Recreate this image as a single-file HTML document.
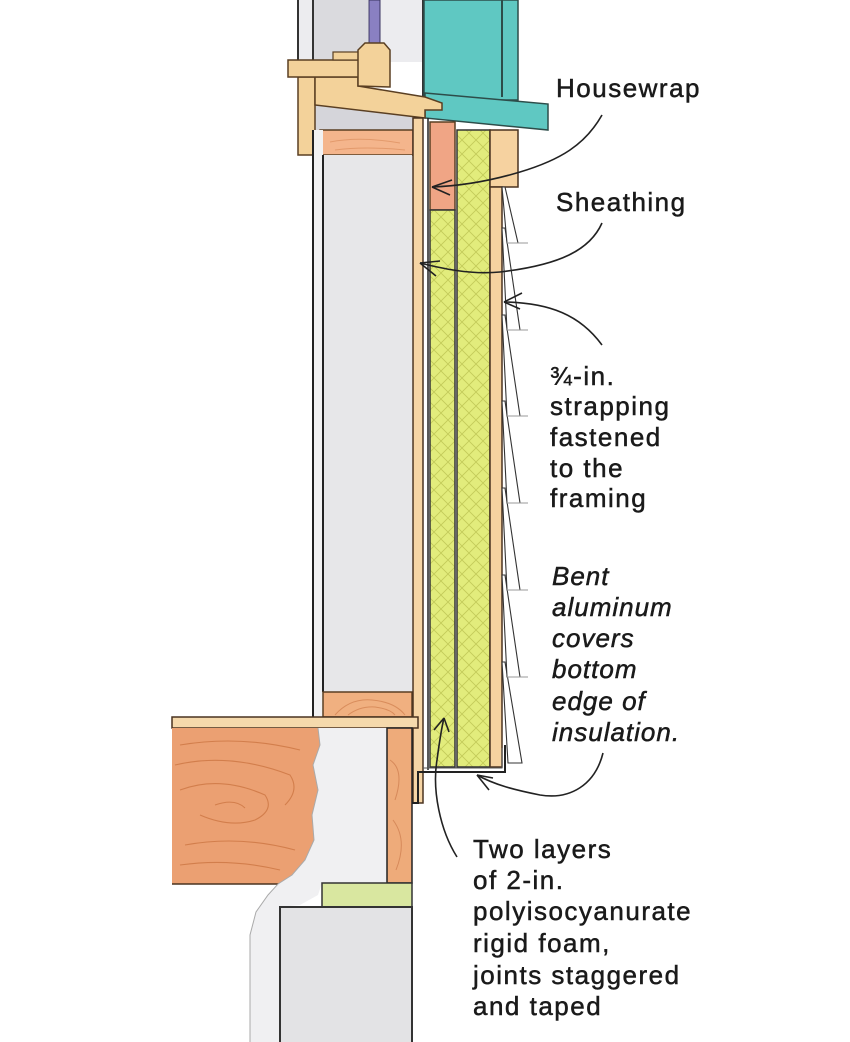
<!DOCTYPE html>
<html><head><meta charset="utf-8"><style>
html,body{margin:0;padding:0;background:#fff;}
svg{display:block;}
.t{font-family:"Liberation Sans",sans-serif;font-size:26px;letter-spacing:1.5px;fill:#1a1a1a;stroke:#1a1a1a;stroke-width:0.5px;}
.i{font-family:"Liberation Sans",sans-serif;font-size:26px;font-style:italic;letter-spacing:1px;fill:#1a1a1a;stroke:#1a1a1a;stroke-width:0.5px;}
</style></head><body>
<svg width="850" height="1042" viewBox="0 0 850 1042" xmlns="http://www.w3.org/2000/svg">
<defs>
<pattern id="hatch" width="14" height="14" patternUnits="userSpaceOnUse">
<rect width="14" height="14" fill="#e2ec7c"/>
<path d="M0,0 L14,14 M14,0 L0,14" stroke="#c3cb5a" stroke-width="0.9"/>
</pattern>
</defs>
<rect width="850" height="1042" fill="#fff"/>

<!-- window top -->
<rect x="298" y="0" width="125" height="62" fill="#ececef"/>
<rect x="313" y="0" width="55" height="62" fill="#dadade"/>
<rect x="369" y="0" width="11" height="47" fill="#8a80c2" stroke="#3a3560" stroke-width="1"/>
<line x1="298" y1="0" x2="298" y2="62" stroke="#333" stroke-width="2"/>
<line x1="313" y1="0" x2="313" y2="62" stroke="#333" stroke-width="2"/>
<line x1="423" y1="0" x2="423" y2="100" stroke="#333" stroke-width="2"/>

<!-- teal casing -->
<rect x="424" y="0" width="94" height="100" fill="#5fc8c2" stroke="#2d4d4a" stroke-width="1.5"/>
<line x1="502" y1="0" x2="502" y2="97" stroke="#2d4d4a" stroke-width="2"/>
<polygon points="425,93 548,104 548,130 425,118" fill="#5fc8c2" stroke="#2d4d4a" stroke-width="1.5"/>

<!-- grey under sill -->
<rect x="315" y="104" width="98" height="27" fill="#d5d5da"/>

<!-- sill pieces -->
<rect x="298" y="77" width="17" height="78" fill="#f3d29a" stroke="#5a3f22" stroke-width="1.5"/>
<polygon points="315,77 358,77 358,86 425,97 442,103 442,110 425,110 425,118 315,105" fill="#f3d29a" stroke="#5a3f22" stroke-width="1.5"/>
<rect x="288" y="60" width="72" height="17" fill="#f3d29a" stroke="#5a3f22" stroke-width="1.5"/>
<rect x="333" y="52" width="27" height="8" fill="#f3d29a" stroke="#5a3f22" stroke-width="1.2"/>
<polygon points="358,86 358,50 365,43 384,43 390,50 390,87" fill="#f3d29a" stroke="#5a3f22" stroke-width="1.5"/>

<!-- header -->
<rect x="320" y="130" width="93" height="25" fill="#f4b58c" stroke="#5a3f22" stroke-width="1.5"/>
<path d="M330,142 Q360,136 400,143 M335,150 Q365,146 405,150" stroke="#e39a6c" stroke-width="1" fill="none"/>

<!-- interior wall -->
<rect x="313" y="130" width="10" height="588" fill="#f2f2f3"/>
<rect x="323" y="155" width="89" height="537" fill="#e7e7e9"/>
<line x1="313" y1="130" x2="313" y2="718" stroke="#222" stroke-width="2"/>
<line x1="323" y1="155" x2="323" y2="692" stroke="#222" stroke-width="2"/>
<rect x="323" y="692" width="89" height="25" fill="#f0b080" stroke="#5a3f22" stroke-width="1.5"/>
<path d="M335,715 Q350,698 372,700 Q395,702 405,715 M348,715 Q360,706 375,707 Q390,709 395,715" stroke="#d98d5c" stroke-width="1" fill="none"/>

<!-- sheathing -->
<rect x="413" y="118" width="10" height="685" fill="#f6d5a5" stroke="#4a3320" stroke-width="1.5"/>
<line x1="428" y1="118" x2="428" y2="770" stroke="#222" stroke-width="1.5"/>

<!-- foam + block -->
<rect x="430" y="122" width="25" height="88" fill="#f0a585" stroke="#5a3f22" stroke-width="1.5"/>
<rect x="430" y="210" width="25" height="557" fill="url(#hatch)" stroke="#333" stroke-width="1.5"/>
<rect x="457" y="130" width="33" height="637" fill="url(#hatch)" stroke="#333" stroke-width="1.5"/>

<!-- strapping -->
<rect x="490" y="130" width="28" height="57" fill="#f6d2a0" stroke="#4a3320" stroke-width="1.5"/>
<rect x="490" y="187" width="12" height="580" fill="#f6d2a0" stroke="#4a3320" stroke-width="1.5"/>

<!-- clapboards (bottom first) -->
<g stroke="#333" stroke-width="1.1" fill="#fff">
<polygon points="502,662 505,662 522,763 508,763"/>
<polygon points="502,575 505,575 520,677 507,677"/>
<polygon points="502,488 505,488 520,590 507,590"/>
<polygon points="502,401 505,401 520,503 507,503"/>
<polygon points="502,315 505,315 520,416 507,416"/>
<polygon points="502,228 505,228 520,330 507,330"/>
<polygon points="502,187 505,187 518,243 507,243"/>
</g>
<g stroke="#999" stroke-width="1">
<line x1="507" y1="243" x2="528" y2="243"/>
<line x1="507" y1="330" x2="528" y2="330"/>
<line x1="507" y1="416" x2="528" y2="416"/>
<line x1="507" y1="503" x2="528" y2="503"/>
<line x1="507" y1="590" x2="528" y2="590"/>
<line x1="507" y1="677" x2="528" y2="677"/>
</g>

<!-- flashing -->
<polyline points="412,803 418,803 418,772 505,772 505,745" fill="none" stroke="#222" stroke-width="2"/>
<polyline points="423,768 502,768 502,748" fill="none" stroke="#555" stroke-width="1"/>

<!-- floor framing -->
<rect x="172" y="717" width="246" height="11" fill="#f5d9ac" stroke="#4a3320" stroke-width="1.5"/>
<polygon points="172,728 318,728 320,745 313,765 318,790 312,815 314,840 305,860 292,875 278,884 172,884" fill="#eba072"/>
<path d="M180,745 Q240,735 300,750 M175,765 Q230,752 290,775 Q300,790 285,805 M180,790 Q220,775 265,795 Q275,810 255,820 Q230,828 200,815 M185,845 Q240,835 295,850 M180,865 Q230,858 280,870 M215,805 Q235,798 245,808" stroke="#d27e4c" stroke-width="1.1" fill="none"/>
<line x1="172" y1="884" x2="280" y2="884" stroke="#4a3320" stroke-width="1.5"/>
<polygon points="318,728 387,728 387,883 322,883 318,895 300,905 280,907 280,1042 250,1042 250,935 256,912 268,895 278,884 292,875 305,860 314,840 312,815 318,790 313,765 320,745" fill="#f0f0f2"/>
<path d="M318,728 L320,745 L313,765 L318,790 L312,815 L314,840 L305,860 L292,875 L278,884 L268,895 L256,912 L250,935 L250,1042" fill="none" stroke="#aaa" stroke-width="1"/>
<rect x="387" y="728" width="25" height="155" fill="#eeab7a" stroke="#222" stroke-width="1.5"/>
<path d="M390,760 Q405,770 395,800 M393,820 Q408,840 396,870" stroke="#d6895a" stroke-width="1" fill="none"/>
<rect x="322" y="883" width="90" height="24" fill="#d9e7a0" stroke="#333" stroke-width="1.5"/>
<rect x="280" y="907" width="132" height="140" fill="#e3e3e5" stroke="#333" stroke-width="2"/>

<!-- leaders -->
<g fill="none" stroke="#222" stroke-width="1.6">
<path d="M602,115 C585,145 560,160 520,172 C490,181 460,186 432,187"/>
<path d="M432,187 L452,180 M432,187 L450,195"/>
<path d="M602,223 C590,250 560,265 500,272 C470,275 440,268 420,263"/>
<path d="M420,263 L440,261 M420,263 L436,276"/>
<path d="M602,345 C580,315 550,303 505,302"/>
<path d="M504,302 L522,293 M504,302 L520,309"/>
<path d="M603,753 C595,785 570,800 540,795 C515,790 495,785 477,775"/>
<path d="M477,775 L493,778 M477,775 L489,790"/>
<path d="M457,857 C440,830 432,790 437,760 C439,745 441,730 444,718"/>
<path d="M444,718 L434,730 M444,718 L449,732"/>
</g>

<!-- labels -->
<text class="t" x="556" y="97">Housewrap</text>
<text class="t" x="556" y="211">Sheathing</text>
<text class="t" x="550" y="385">¾-in.</text>
<text class="t" x="550" y="415">strapping</text>
<text class="t" x="550" y="446">fastened</text>
<text class="t" x="550" y="477">to the</text>
<text class="t" x="550" y="507">framing</text>
<text class="i" x="552" y="585">Bent</text>
<text class="i" x="552" y="616">aluminum</text>
<text class="i" x="552" y="647">covers</text>
<text class="i" x="552" y="678">bottom</text>
<text class="i" x="552" y="710">edge of</text>
<text class="i" x="552" y="741">insulation.</text>
<text class="t" x="473" y="858">Two layers</text>
<text class="t" x="473" y="889">of 2-in.</text>
<text class="t" x="473" y="920">polyisocyanurate</text>
<text class="t" x="473" y="952">rigid foam,</text>
<text class="t" x="473" y="984">joints staggered</text>
<text class="t" x="473" y="1015">and taped</text>
</svg>
</body></html>
